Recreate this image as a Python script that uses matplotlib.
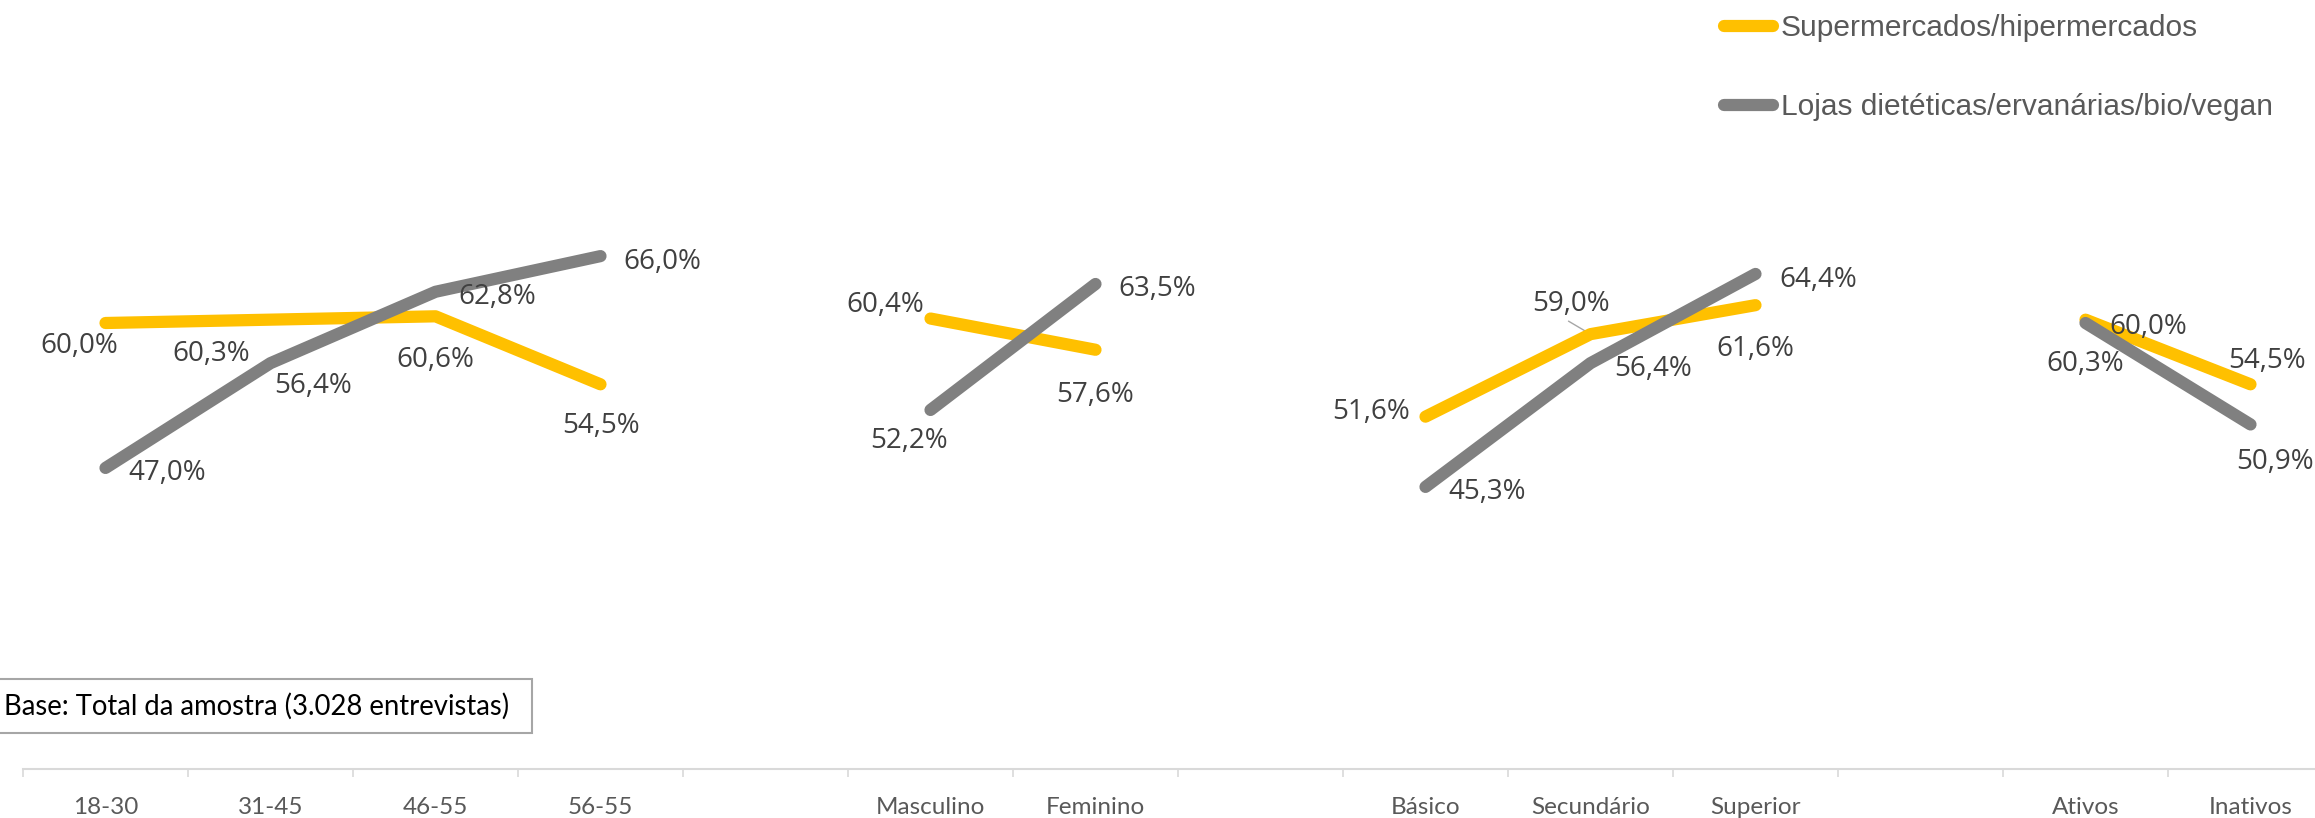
import numpy as np
import matplotlib
matplotlib.use('Agg')
from matplotlib import pyplot as plt
from matplotlib.patches import Rectangle

# Data (empty slots separate the groups).
categories = ['18-30', '31-45', '46-55', '56-55', '',
              'Masculino', 'Feminino', '',
              'Básico', 'Secundário', 'Superior', '',
              'Ativos', 'Inativos']
nan = np.nan
supermercados = [60.0, 60.3, 60.6, 54.5, nan, 60.4, 57.6, nan, 51.6, 59.0, 61.6, nan, 60.3, 54.5]
lojas = [47.0, 56.4, 62.8, 66.0, nan, 52.2, 63.5, nan, 45.3, 56.4, 64.4, nan, 60.0, 50.9]
series_names = ['Supermercados/hipermercados', 'Lojas dietéticas/ervanárias/bio/vegan']
base_note = 'Base: Total da amostra (3.028 entrevistas)'

# Label placement (pixels from the point: right, down) - style only.
off_super = [(-26, 20), (-59, 31), (0, 41), (0, 39), None, (-45, -17), (0, 42), None,
             (-54, -8), (-20, -33), (0, 41), None, (0, 41), (16, -26)]
off_lojas = [(62, 2), (43, 20), (62, 2), (62, 3), None, (-22, 28), (62, 2), None,
             (62, 2), (63, 3), (63, 3), None, (63, 1), (25, 35)]

W, H = 2315, 818
fig = plt.figure(figsize=(W / 100, H / 100), dpi=100)
ax = fig.add_axes([23 / W, (H - 769) / H, 2310 / W, 769 / H])

x = np.arange(len(categories))
yellow = '#FFC000'
grey = '#808080'
lw = 8.8

ax.plot(x, supermercados, color=yellow, lw=lw, solid_capstyle='round', solid_joinstyle='round',
        label=series_names[0], zorder=3)
ax.plot(x, lojas, color=grey, lw=lw, solid_capstyle='round', solid_joinstyle='round',
        label=series_names[1], zorder=4)

ax.set_xlim(-0.5, len(categories) - 0.5)
ax.set_ylim(20, 20 + 769 / 11.15)

def fmt(v):
    return f'{v:.1f}%'.replace('.', ',')

for vals, offs in [(supermercados, off_super), (lojas, off_lojas)]:
    for i, v in enumerate(vals):
        if np.isnan(v) or offs[i] is None:
            continue
        dx, dy = offs[i]
        ax.annotate(fmt(v), xy=(i, v), xytext=(dx, -(dy + 10)), textcoords='offset pixels',
                    ha='center', va='baseline', fontsize=20, family='Open Sans',
                    color='#404040', zorder=5)

# leader line for the 59,0% label
ax.annotate('', xy=(9, supermercados[9]), xytext=(-22, 13), textcoords='offset pixels',
            arrowprops=dict(arrowstyle='-', color='#A6A6A6', lw=1, shrinkA=0, shrinkB=0), zorder=2)

# axis styling
for s in ['top', 'right', 'left']:
    ax.spines[s].set_visible(False)
ax.spines['bottom'].set_color('#D9D9D9')
ax.spines['bottom'].set_linewidth(1.5)
ax.set_yticks([])
ax.set_xticks(x)
ax.set_xticklabels(categories, family='Lato', fontsize=17.5, color='#595959')
ax.set_xticks(np.arange(-0.5, len(categories), 1), minor=True)
ax.tick_params(axis='x', which='major', length=0, pad=20)
ax.tick_params(axis='x', which='minor', length=5.5, width=1.2, color='#D9D9D9', direction='out')

# legend
fig.legend(loc='upper left', bbox_to_anchor=(1724 / W, 1 - 14 / H), frameon=False,
           prop={'family': 'Liberation Sans', 'size': 21.5}, labelcolor='#595959',
           handlelength=1.65, handletextpad=0.25, labelspacing=1.72, borderpad=0, borderaxespad=0)

# base note box
fig.patches.append(Rectangle((-5 / W, (H - 733) / H), 537 / W, 54 / H, transform=fig.transFigure,
                             fc='white', ec='#A6A6A6', lw=1.5, figure=fig))
fig.text(4 / W, (H - 706) / H, base_note, family='Lato', fontsize=19.8, color='#000000',
         ha='left', va='center')

fig.savefig('out.png', dpi=100, facecolor='white')
